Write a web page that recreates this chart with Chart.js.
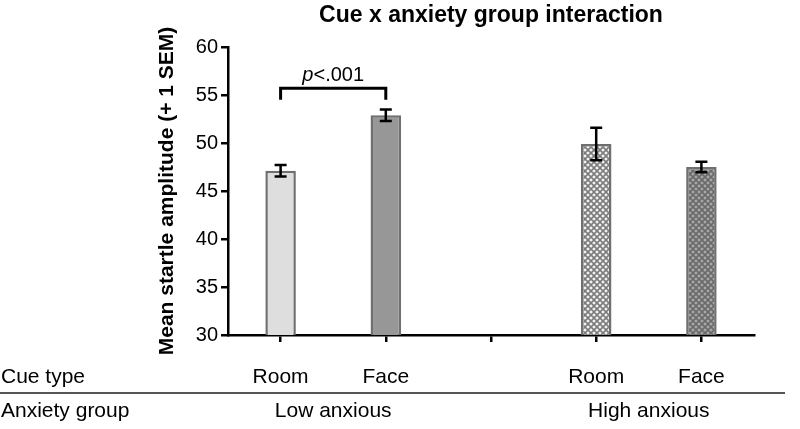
<!DOCTYPE html>
<html>
<head>
<meta charset="utf-8">
<script src="https://cdn.jsdelivr.net/npm/chart.js@4/dist/chart.umd.min.js"></script>
<style>body{margin:0;background:#fff}</style>
</head>
<body>
<canvas id="chart" width="800" height="429"></canvas>
<script>
const cueLabels = ['Room', 'Face', '', 'Room', 'Face'];
const groupLabels = ['Low anxious', 'High anxious'];
const groupMembers = [[0, 1], [3, 4]];
const meanStartle = [47.1, 52.9, null, 49.9, 47.5];
const semStartle = [0.6, 0.6, null, 1.7, 0.55];
const sigBracket = { from: 0, to: 1, level: 55.7, drop: 1.2, text: '<.001' };

const FONT = "'Liberation Sans', Arial, sans-serif";
Chart.defaults.font.family = FONT;

// crosshatch fill for the high anxious bars
function hatch(bg, fg) {
  const c = document.createElement('canvas');
  c.width = c.height = 6;
  const x = c.getContext('2d');
  x.fillStyle = bg;
  x.fillRect(0, 0, 6, 6);
  x.strokeStyle = fg;
  x.lineWidth = 1.6;
  x.beginPath();
  x.moveTo(0, 0); x.lineTo(6, 6);
  x.moveTo(0, 6); x.lineTo(6, 0);
  x.stroke();
  return x.createPattern(c, 'repeat');
}

const fills = ['#dedede', '#979797', 'rgba(0,0,0,0)', hatch('#f2f2f2', '#7c7c7c'), hatch('#a8a8a8', '#6a6a6a')];

const errorBars = {
  id: 'errorBars',
  afterDatasetsDraw(chart) {
    const { ctx, scales: { x, y } } = chart;
    ctx.save();
    ctx.strokeStyle = '#000';
    ctx.lineWidth = 2.5;
    meanStartle.forEach((m, i) => {
      if (m == null) return;
      const px = x.getPixelForValue(i);
      const top = y.getPixelForValue(m + semStartle[i]);
      const bot = y.getPixelForValue(m - semStartle[i]);
      ctx.beginPath();
      ctx.moveTo(px, top); ctx.lineTo(px, bot);
      ctx.moveTo(px - 6, top); ctx.lineTo(px + 6, top);
      ctx.moveTo(px - 6, bot); ctx.lineTo(px + 6, bot);
      ctx.stroke();
    });

    // significance bracket
    const x0 = x.getPixelForValue(sigBracket.from);
    const x1 = x.getPixelForValue(sigBracket.to);
    const yl = y.getPixelForValue(sigBracket.level);
    const yb = y.getPixelForValue(sigBracket.level - sigBracket.drop);
    ctx.lineWidth = 3;
    ctx.beginPath();
    ctx.moveTo(x0, yb); ctx.lineTo(x0, yl); ctx.lineTo(x1, yl); ctx.lineTo(x1, yb);
    ctx.stroke();
    ctx.fillStyle = '#000';
    ctx.textBaseline = 'middle';
    ctx.font = 'italic 20px ' + FONT;
    const wp = ctx.measureText('p').width;
    ctx.font = '20px ' + FONT;
    const wr = ctx.measureText(sigBracket.text).width;
    const sx = (x0 + x1) / 2 - (wp + wr) / 2;
    ctx.font = 'italic 20px ' + FONT;
    ctx.textAlign = 'left';
    ctx.fillText('p', sx, yl - 13);
    ctx.font = '20px ' + FONT;
    ctx.fillText(sigBracket.text, sx + wp, yl - 13);
    ctx.restore();
  }
};

const extraText = {
  id: 'extraText',
  afterDraw(chart) {
    const { ctx, chartArea, scales: { x } } = chart;
    ctx.save();
    ctx.fillStyle = '#000';
    ctx.textBaseline = 'middle';
    ctx.font = 'bold 23px ' + FONT;
    ctx.textAlign = 'center';
    ctx.fillText('Cue x anxiety group interaction', (chartArea.left + chartArea.right) / 2, 16);

    ctx.font = '21px ' + FONT;
    ctx.textAlign = 'left';
    ctx.fillText('Cue type', 1, 377);
    ctx.fillText('Anxiety group', 1, 411);
    ctx.textAlign = 'center';
    groupLabels.forEach((g, k) => {
      const [a, b] = groupMembers[k];
      ctx.fillText(g, (x.getPixelForValue(a) + x.getPixelForValue(b)) / 2, 411);
    });
    ctx.strokeStyle = '#555';
    ctx.lineWidth = 2;
    ctx.beginPath();
    ctx.moveTo(0, 393); ctx.lineTo(785, 393);
    ctx.stroke();
    ctx.restore();
  }
};

new Chart(document.getElementById('chart'), {
  type: 'bar',
  data: {
    labels: cueLabels,
    datasets: [{
      data: meanStartle,
      backgroundColor: fills,
      borderColor: '#6f6f6f',
      borderWidth: 2.5,
      borderSkipped: false,
      barPercentage: 0.29,
      categoryPercentage: 1
    }]
  },
  options: {
    responsive: false,
    animation: false,
    layout: { padding: { left: 147, right: 46, top: 47, bottom: 0 } },
    plugins: { legend: { display: false }, tooltip: { enabled: false } },
    scales: {
      x: {
        z: 1,
        offset: true,
        grid: { offset: false, drawOnChartArea: false, tickLength: 7, color: '#000', lineWidth: 2.5 },
        border: { color: '#000', width: 2.5 },
        ticks: { color: '#000', font: { size: 21 }, padding: 23, maxRotation: 0, autoSkip: false },
        afterFit: s => { s.height = 94; }
      },
      y: {
        min: 30,
        max: 60,
        ticks: { stepSize: 5, color: '#000', font: { size: 20 }, padding: 3 },
        grid: { drawOnChartArea: false, tickLength: 7, color: '#000', lineWidth: 2.5 },
        border: { color: '#000', width: 2.5 },
        title: {
          display: true,
          text: 'Mean startle amplitude (+ 1 SEM)',
          color: '#000',
          font: { size: 21, weight: 'bold' },
          padding: { top: 8, bottom: 0 }
        },
        afterFit: s => { s.width = 81; }
      }
    }
  },
  plugins: [errorBars, extraText]
});
</script>
</body>
</html>
